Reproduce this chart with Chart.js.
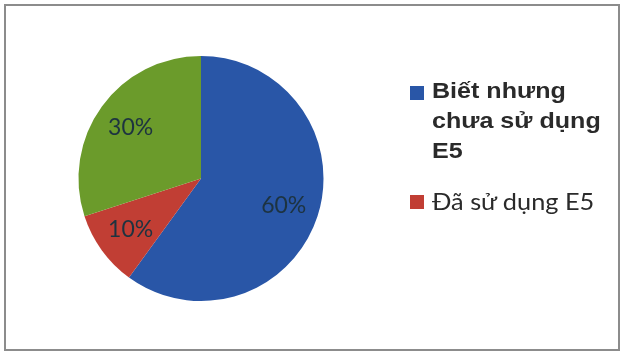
<!DOCTYPE html>
<html>
<head>
<meta charset="utf-8">
<script src="https://cdn.jsdelivr.net/npm/chart.js@4"></script>
<style>
  body { margin: 0; background: #fff; }
  #khung { position: absolute; left: 4px; top: 4px; width: 612px; height: 343px; border: 2px solid #8c8c8c; }
  #bieudo { position: absolute; left: 0; top: 0; }
  .o { position: absolute; left: 410px; width: 14px; height: 14px; }
  .chu { position: absolute; left: 432px; color: #2a2a2a; transform-origin: left top; white-space: nowrap; }
  .c0 { top: 76px; font: bold 22px "Liberation Sans", Arial, sans-serif; line-height: 30px; transform: scaleX(1.14); }
  .c1 { top: 187px; font: 23px Lato, "Open Sans", sans-serif; line-height: 28px; transform: scaleX(1.1); }
</style>
</head>
<body>
<div id="khung"></div>
<canvas id="bieudo" width="622" height="353"></canvas>
<div id="chuthich"></div>
<script>
// Dữ liệu biểu đồ
const nhan = ['Biết nhưng chưa sử dụng E5', 'Đã sử dụng E5', 'Chưa biết E5'];
const nhanChuThich = [['Biết nhưng', 'chưa sử dụng', 'E5'], ['Đã sử dụng E5']];
const giaTri = [60, 10, 30];
const mau = ['#2956a7', '#c13e34', '#6b9b2b'];

// Plugin vẽ phần trăm trên từng lát
const nhanPhanTram = {
    id: 'nhanPhanTram',
    afterDatasetsDraw(chart) {
        const ctx = chart.ctx;
        const tong = giaTri.reduce((a, b) => a + b, 0);
        chart.getDatasetMeta(0).data.forEach((cung, i) => {
            const goc = (cung.startAngle + cung.endAngle) / 2;
            const r = cung.outerRadius * 0.71;
            const x = cung.x + Math.cos(goc) * r;
            const y = cung.y + Math.sin(goc) * r;
            ctx.save();
            ctx.font = '23px Lato, "Open Sans", sans-serif';
            ctx.fillStyle = '#1d3340';
            ctx.textAlign = 'center';
            ctx.textBaseline = 'middle';
            ctx.fillText(Math.round(giaTri[i] / tong * 100) + '%', x, y);
            ctx.restore();
        });
    }
};

new Chart(document.getElementById('bieudo'), {
    type: 'pie',
    data: {
        labels: nhan,
        datasets: [{
            data: giaTri,
            backgroundColor: mau,
            borderWidth: 0
        }]
    },
    options: {
        responsive: false,
        animation: false,
        layout: { padding: { left: 76, right: 296, top: 56, bottom: 52 } },
        plugins: {
            legend: { display: false },
            tooltip: { enabled: false }
        }
    },
    plugins: [nhanPhanTram]
});

// Chú thích bên phải (chỉ hai mục như hình gốc)
const chuThich = document.getElementById('chuthich');
const viTriO = [86, 195];
nhanChuThich.forEach((dong, i) => {
    const o = document.createElement('div');
    o.className = 'o';
    o.style.top = viTriO[i] + 'px';
    o.style.background = mau[i];
    chuThich.appendChild(o);
    const chu = document.createElement('div');
    chu.className = 'chu c' + i;
    chu.innerHTML = dong.join('<br>');
    chuThich.appendChild(chu);
});
</script>
</body>
</html>
